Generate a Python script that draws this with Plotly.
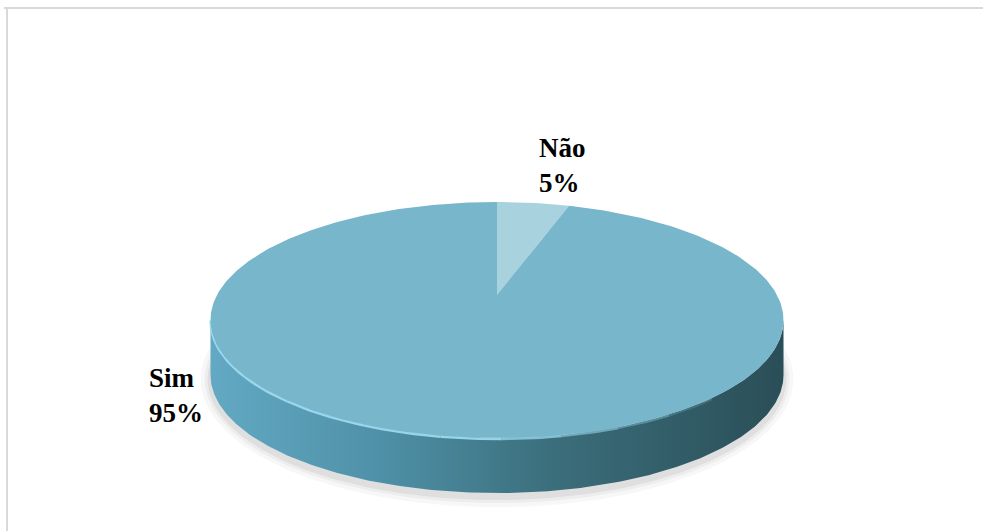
import numpy as np
import plotly.graph_objects as go

# ---- data ----
labels = ["Não", "Sim"]
values = [5, 95]
label_text = ["<b>Não<br>5%</b>", "<b>Sim<br>95%</b>"]

# ---- geometry (pixel space, y down) ----
W, H = 983, 531
CX, CY = 497.0, 295.0      # projected pie centre
K = 0.212                  # perspective factor
B = 112.7                  # vertical scale
A = 280.0                  # horizontal scale
DEPTH = 55.0               # thickness of the pie side

slice_colors = {"Não": "#a9d2df", "Sim": "#78b6cc"}


def proj(theta, dy=0.0):
    u = np.sin(theta)
    v = np.cos(theta)
    w = 1 + K * v
    return CX + A * u / w, CY - B * v / w + dy


fig = go.Figure()

# soft shadow beneath the pie
t_all = np.linspace(0, 2 * np.pi, 361)
for grow, alpha in [(10, 0.03), (6, 0.04), (3, 0.06)]:
    xs, ys = proj(t_all, DEPTH + 4)
    xs = CX + (xs - CX) * (1 + grow / 290)
    ys = (CY + DEPTH + 25) + (ys - (CY + DEPTH + 25)) * (1 + grow / 120)
    fig.add_trace(go.Scatter(x=xs, y=ys, mode="lines", fill="toself",
                             fillcolor=f"rgba(0,0,0,{alpha})", line=dict(width=0),
                             hoverinfo="skip", showlegend=False))

# side of the pie (front, visible part)
t1 = np.arccos(-K)
t2 = 2 * np.pi - t1
ts = np.linspace(t1, t2, 200)
xt, yt = proj(ts)
xb, yb = proj(ts[::-1], DEPTH)
fig.add_trace(go.Scatter(
    x=np.concatenate([xt, xb]), y=np.concatenate([yt, yb]),
    mode="lines", fill="toself", line=dict(width=0),
    fillgradient=dict(type="horizontal",
                      colorscale=[[0, "#63a9c3"], [0.3, "#4e90a7"],
                                  [0.6, "#3b6e7b"], [1, "#2a4e57"]]),
    hoverinfo="skip", showlegend=False))

# highlight along the top edge of the side, fading towards the right
edges = np.linspace(258, 140, 13)
for i in range(len(edges) - 1):
    th = np.linspace(np.deg2rad(edges[i]), np.deg2rad(edges[i + 1]), 12)
    xh, yh = proj(th, 1.0)
    a = 0.9 if i < 8 else 0.9 * (1 - (i - 7) / 5)
    fig.add_trace(go.Scatter(x=xh, y=yh, mode="lines",
                             line=dict(color=f"rgba(160,222,242,{a:.2f})", width=2.5),
                             hoverinfo="skip", showlegend=False))

# top face slices
total = sum(values)
start = 0.0
for lab, val in zip(labels, values):
    end = start + 2 * np.pi * val / total
    tt = np.linspace(start, end, max(int(180 * val / total), 4) * 2)
    xa, ya = proj(tt)
    xs = np.concatenate([[CX], xa, [CX]])
    ys = np.concatenate([[CY], ya, [CY]])
    fig.add_trace(go.Scatter(x=xs, y=ys, mode="lines", fill="toself",
                             fillcolor=slice_colors[lab], line=dict(width=0),
                             name=lab, hoverinfo="name", showlegend=False))
    start = end

# labels
label_pos = [(537, 165), (147, 395)]
for txt, (lx, ly) in zip(label_text, label_pos):
    fig.add_annotation(x=lx, y=ly, text=txt, showarrow=False,
                       xanchor="left", yanchor="middle", align="left",
                       font=dict(family="Liberation Serif, Times New Roman, serif",
                                 size=27, color="black"))

# frame (top and left edges only)
fig.add_shape(type="line", x0=4, y0=8, x1=W, y1=8,
              line=dict(color="#d9d9d9", width=2), layer="below")
fig.add_shape(type="line", x0=7, y0=8, x1=7, y1=H,
              line=dict(color="#d9d9d9", width=2), layer="below")

fig.update_layout(
    width=W, height=H,
    margin=dict(l=0, r=0, t=0, b=0),
    paper_bgcolor="white", plot_bgcolor="white",
    xaxis=dict(range=[0, W], visible=False, fixedrange=True),
    yaxis=dict(range=[H, 0], visible=False, fixedrange=True),
)

fig.write_html("out.html")
